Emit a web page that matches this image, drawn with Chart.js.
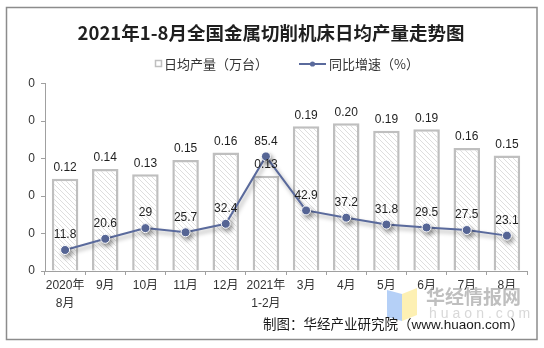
<!DOCTYPE html>
<html><head><meta charset="utf-8">
<script src="https://cdn.jsdelivr.net/npm/chart.js@4/dist/chart.umd.min.js"></script>
<style>html,body{margin:0;padding:0;background:#fff;} #wrap{width:544px;height:348px;position:relative}</style>
</head><body><div id="wrap"><canvas id="c" width="544" height="348"></canvas></div>
<script>
const categories = [["2020年","8月"],"9月","10月","11月","12月",["2021年","1-2月"],"3月","4月","5月","6月","7月","8月"];
const dailyOutput = [0.123,0.136,0.129,0.148,0.158,0.127,0.193,0.197,0.187,0.189,0.164,0.154];
const yoyGrowth = [11.8,20.6,29,25.7,32.4,85.4,42.9,37.2,31.8,29.5,27.5,23.1];
const outputTicks = [0,0.05,0.1,0.15,0.2,0.25];
const seriesNames = ["日均产量（万台）","同比增速（%）"];
const titleText = "2021年1-8月全国金属切削机床日均产量走势图";
const sourceText = "制图：华经产业研究院（www.huaon.com）";
const watermarkText = "华经情报网";
const watermarkSub = "huaon.com";

const NUM_FONT = '"Liberation Sans", Arial, "Noto Sans CJK SC", sans-serif';
const CJK_FONT = '"Noto Sans CJK SC", "Liberation Sans", sans-serif';
const LINE_COLOR = '#5a6a9c';
const BAR_BORDER = '#bfbfbf';

function hatch(){
  const p = document.createElement('canvas');
  p.width = 5; p.height = 5;
  const g = p.getContext('2d');
  g.fillStyle = '#ffffff'; g.fillRect(0,0,5,5);
  g.strokeStyle = '#dedede'; g.lineWidth = 1;
  g.beginPath();
  g.moveTo(-1,-1); g.lineTo(6,6);
  g.moveTo(-1,4); g.lineTo(1,6);
  g.moveTo(4,-1); g.lineTo(6,1);
  g.stroke();
  return g.createPattern(p,'repeat');
}

const deco = {
  id: 'deco',
  beforeDraw(chart){
    const ctx = chart.ctx;
    ctx.save();
    ctx.fillStyle = '#fff';
    ctx.fillRect(0,0,chart.width,chart.height);
    ctx.strokeStyle = '#8c8c8c';
    ctx.lineWidth = 1.5;
    ctx.strokeRect(6.5,7.5,530.5,332);
    ctx.restore();
  },
  beforeDatasetDraw(chart, args){
    if (args.meta.type === 'line'){
      const ctx = chart.ctx;
      ctx.save();
      ctx.shadowColor = 'rgba(0,0,0,0.35)';
      ctx.shadowBlur = 4;
      ctx.shadowOffsetX = 2;
      ctx.shadowOffsetY = 3;
    }
  },
  afterDatasetDraw(chart, args){
    if (args.meta.type === 'line') chart.ctx.restore();
  },
  afterDatasetsDraw(chart){
    const ctx = chart.ctx;
    ctx.save();
    ctx.font = '12px ' + NUM_FONT;
    ctx.fillStyle = '#1f1f1f';
    ctx.textAlign = 'center';
    ctx.textBaseline = 'middle';
    const barMeta = chart.getDatasetMeta(0);
    barMeta.data.forEach((el,i)=>{
      ctx.fillText(dailyOutput[i].toFixed(2), el.x, el.y - 11);
    });
    const lineMeta = chart.getDatasetMeta(1);
    lineMeta.data.forEach((el,i)=>{
      ctx.fillText(String(yoyGrowth[i]), el.x, el.y - 15);
    });
    ctx.restore();
  },
  afterDraw(chart){
    const ctx = chart.ctx;
    ctx.save();
    // title
    ctx.fillStyle = '#1f1f1f';
    ctx.font = 'bold 18.5px ' + CJK_FONT;
    ctx.textAlign = 'center';
    ctx.textBaseline = 'middle';
    ctx.fillText(titleText, 271, 33);
    // legend
    const ly = 64;
    ctx.font = '13px ' + CJK_FONT;
    ctx.textAlign = 'left';
    ctx.fillStyle = '#fff';
    ctx.fillRect(155.5, ly-3.5, 6, 6);
    ctx.strokeStyle = chart.data.datasets[0].borderColor;
    ctx.lineWidth = 1.5;
    ctx.strokeRect(155.5, ly-3.5, 6, 6);
    ctx.fillStyle = '#333';
    ctx.fillText(chart.data.datasets[0].label, 164, ly);
    ctx.strokeStyle = chart.data.datasets[1].borderColor;
    ctx.lineWidth = 2;
    ctx.beginPath(); ctx.moveTo(299, ly); ctx.lineTo(326, ly); ctx.stroke();
    ctx.fillStyle = chart.data.datasets[1].backgroundColor;
    ctx.beginPath(); ctx.arc(312.5, ly, 2.6, 0, Math.PI*2); ctx.fill();
    ctx.fillStyle = '#333';
    ctx.fillText(chart.data.datasets[1].label, 329, ly);
    // watermark
    ctx.globalAlpha = 0.85;
    ctx.fillStyle = '#a8c8f6';
    ctx.beginPath(); ctx.moveTo(387,290); ctx.lineTo(402,294); ctx.lineTo(402,321); ctx.lineTo(387,317); ctx.closePath(); ctx.fill();
    ctx.fillStyle = '#fdeda6';
    ctx.beginPath(); ctx.moveTo(402,294); ctx.lineTo(417,288); ctx.lineTo(417,315); ctx.lineTo(402,321); ctx.closePath(); ctx.fill();
    ctx.globalAlpha = 1;
    ctx.fillStyle = 'rgba(170,170,170,0.75)';
    ctx.font = 'bold 19px ' + CJK_FONT;
    ctx.textAlign = 'left';
    ctx.fillText(watermarkText, 426, 297);
    ctx.fillStyle = 'rgba(200,200,200,0.7)';
    ctx.font = '14px ' + NUM_FONT;
    if ('letterSpacing' in ctx) ctx.letterSpacing = '4px';
    ctx.fillText(watermarkSub, 429, 314);
    if ('letterSpacing' in ctx) ctx.letterSpacing = '0px';
    // source
    ctx.fillStyle = '#1a1a1a';
    ctx.font = '13.5px ' + NUM_FONT;
    ctx.textAlign = 'right';
    ctx.fillText(sourceText, 524, 325.5);
    ctx.restore();
  }
};

new Chart(document.getElementById('c'), {
  data: {
    labels: categories,
    datasets: [
      {
        type: 'bar', label: seriesNames[0], data: dailyOutput, yAxisID: 'y', order: 1,
        backgroundColor: hatch(), borderColor: BAR_BORDER, borderWidth: 2.5,
        barPercentage: 0.66, categoryPercentage: 1
      },
      {
        type: 'line', label: seriesNames[1], data: yoyGrowth, yAxisID: 'y2', order: 0,
        borderColor: LINE_COLOR, backgroundColor: LINE_COLOR, borderWidth: 2,
        pointRadius: 4.5, pointBackgroundColor: LINE_COLOR, pointBorderColor: '#ffffff', pointBorderWidth: 1,
        tension: 0, fill: false
      }
    ]
  },
  options: {
    responsive: false, animation: false, devicePixelRatio: 1,
    layout: { padding: { top: 83.5, left: 28, right: 17, bottom: 35 } },
    plugins: { legend: { display: false }, title: { display: false }, tooltip: { enabled: false } },
    scales: {
      x: {
        offset: true,
        afterFit: s => { s.height = 42; },
        grid: { display: true, drawOnChartArea: false, tickLength: 4, color: '#a0a0a0', offset: true },
        border: { color: '#a0a0a0', width: 1 },
        ticks: { padding: 2, color: '#333', maxRotation: 0, autoSkip: false, font: { size: 12, lineHeight: 1.5, family: NUM_FONT } }
      },
      y: {
        position: 'left', min: 0, max: 0.25,
        afterFit: s => { s.width = 17; },
        afterBuildTicks: s => { s.ticks = outputTicks.map(v => ({ value: v })); },
        grid: { display: true, drawOnChartArea: false, tickLength: 4, color: '#a0a0a0' },
        border: { color: '#a0a0a0', width: 1 },
        ticks: { padding: 6, color: '#333', font: { size: 12, family: NUM_FONT }, callback: v => Number(v).toFixed(0) }
      },
      y2: { display: false, position: 'right', min: -4.72, max: 142.7 }
    }
  },
  plugins: [deco]
});
</script>
</body></html>
